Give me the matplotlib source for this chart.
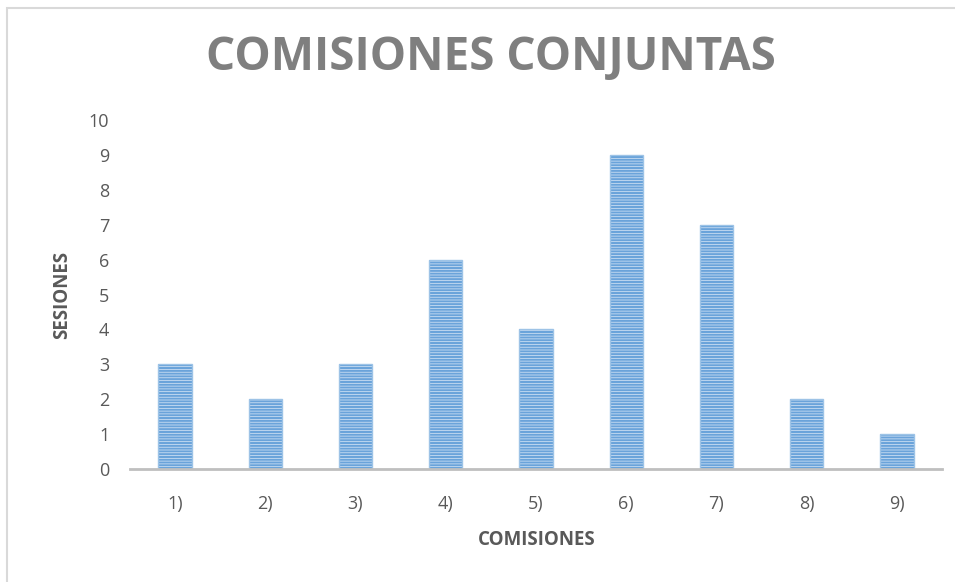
import matplotlib
matplotlib.use("Agg")
import matplotlib.pyplot as plt
from matplotlib.patches import Rectangle

categories = ["1)", "2)", "3)", "4)", "5)", "6)", "7)", "8)", "9)"]
sesiones = [3, 2, 3, 6, 4, 9, 7, 2, 1]

plt.rcParams["font.family"] = ["Open Sans", "DejaVu Sans"]
plt.rcParams["hatch.linewidth"] = 1.5

fig = plt.figure(figsize=(9.55, 5.82), dpi=100)
# light frame of the chart area (top and left edges visible)
fig.add_artist(Rectangle((7 / 955, -0.01), 1.0, 1 - 8 / 582 + 0.01,
                         transform=fig.transFigure, fill=False,
                         edgecolor="#d9d9d9", linewidth=1.5))

ax = fig.add_axes([130 / 955, 1 - 469 / 582, (942 - 130) / 955, (469 - 120) / 582])
x = range(len(categories))
ax.bar(x, sesiones, width=0.37, color="#dce9f7", edgecolor="#6aa3da",
       hatch="------", linewidth=0)
ax.bar(x, sesiones, width=0.37, fill=False, edgecolor="#9dc3e6", linewidth=1)

ax.set_xlim(-0.5, len(categories) - 0.5)
ax.set_ylim(0, 10)
ax.set_yticks(range(11))
ax.set_xticks(list(x))
ax.set_xticklabels(categories)
ax.tick_params(length=0, labelsize=13, colors="#595959")
ax.tick_params(axis="x", pad=19)
ax.tick_params(axis="y", pad=15)
for side in ("top", "right", "left"):
    ax.spines[side].set_visible(False)
ax.spines["bottom"].set_color("#bfbfbf")
ax.spines["bottom"].set_linewidth(2)

fig.text(491 / 955, 1 - 58 / 582, "COMISIONES CONJUNTAS", ha="center", va="center",
         fontsize=33, fontweight="bold", color="#7f7f7f")
fig.text(537 / 955, 1 - 540 / 582, "COMISIONES", ha="center", va="center",
         fontsize=13.5, fontweight="bold", color="#595959")
fig.text(62 / 955, 1 - 295 / 582, "SESIONES", ha="center", va="center",
         rotation=90, fontsize=13.5, fontweight="bold", color="#595959")

fig.savefig("out.png", dpi=100)
